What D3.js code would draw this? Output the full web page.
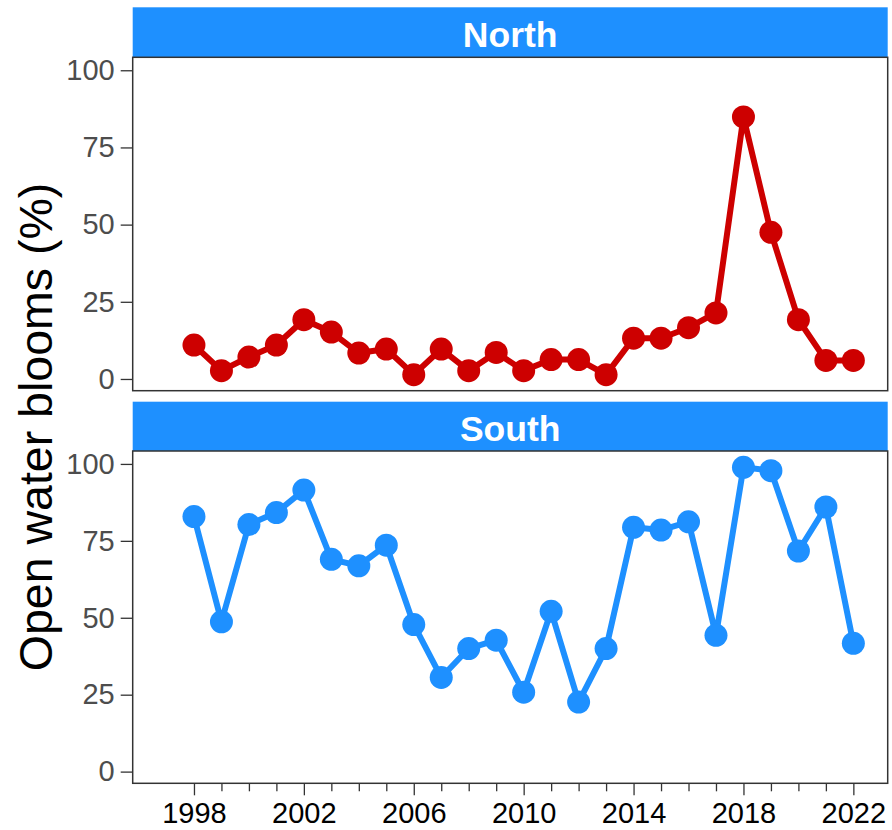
<!DOCTYPE html>
<html>
<head>
<meta charset="utf-8">
<script src="https://cdn.jsdelivr.net/npm/d3@7"></script>
<style>
  html, body { margin: 0; padding: 0; background: #fff; }
  svg { display: block; font-family: "Liberation Sans", Arial, sans-serif; }
</style>
</head>
<body>
<svg id="chart" width="892" height="830"></svg>
<script>
// ---- data ----
const years = [1998,1999,2000,2001,2002,2003,2004,2005,2006,2007,2008,2009,2010,2011,2012,2013,2014,2015,2016,2017,2018,2019,2020,2021,2022];
const northValues = [11.0,2.7,7.1,11.0,19.2,15.2,8.4,9.7,1.4,9.7,2.7,8.6,2.7,6.3,6.3,1.4,13.2,13.2,16.6,21.4,84.9,47.5,19.2,6.0,6.0];
const southValues = [82.9,48.7,80.3,84.2,91.5,69.0,66.9,73.6,47.8,30.6,40.0,42.7,25.8,52.1,22.6,40.0,79.4,78.5,81.2,44.3,98.9,97.8,71.7,86.0,41.7];
const regions = ["North", "South"];
const yTicks = [0, 25, 50, 75, 100];
const xTickLabels = [1998, 2002, 2006, 2010, 2014, 2018, 2022];
const yTitle = "Open water blooms (%)";

const panels = [
  { name: regions[0], values: northValues, color: "#CD0000", stripTop: 7.3, top: 57.3, bottom: 390.7 },
  { name: regions[1], values: southValues, color: "#1E90FF", stripTop: 401.7, top: 451, bottom: 783.3 }
];

const svg = d3.select("#chart");
const left = 132.7, right = 887.7;
const x = d3.scaleLinear().domain([1995.77, 2023.25]).range([left, right]);

panels.forEach((p, i) => {
  const y = d3.scaleLinear().domain([-3.8, 104.2]).range([p.bottom, p.top]);
  const g = svg.append("g");

  // strip
  g.append("rect")
    .attr("x", left).attr("y", p.stripTop)
    .attr("width", right - left).attr("height", p.top - p.stripTop)
    .attr("fill", "#1E90FF");
  g.append("text")
    .attr("x", (left + right) / 2).attr("y", p.top - 10)
    .attr("text-anchor", "middle")
    .attr("fill", "#fff").attr("font-weight", "bold")
    .attr("font-size", 35.5)
    .text(p.name);

  // y axis
  const yAxis = d3.axisLeft(y).tickValues(yTicks).tickSize(12).tickPadding(6).tickSizeOuter(0);
  const ya = g.append("g").attr("transform", `translate(${left},0)`).call(yAxis);
  ya.select(".domain").remove();
  ya.selectAll(".tick line").attr("stroke", "#333").attr("stroke-width", 1.3);
  ya.selectAll(".tick text").attr("fill", "#4D4D4D").attr("font-size", 29)
    .attr("font-family", "Liberation Sans, Arial, sans-serif");

  // x axis (bottom panel only)
  if (i === panels.length - 1) {
    const minor = d3.axisBottom(x).tickValues(years.filter(yv => !xTickLabels.includes(yv)))
      .tickSize(8).tickFormat("").tickSizeOuter(0);
    const mg = g.append("g").attr("transform", `translate(0,${p.bottom})`).call(minor);
    mg.select(".domain").remove();
    mg.selectAll(".tick line").attr("stroke", "#333").attr("stroke-width", 1.3);

    const major = d3.axisBottom(x).tickValues(xTickLabels).tickSize(12).tickPadding(7)
      .tickFormat(d3.format("d")).tickSizeOuter(0);
    const xa = g.append("g").attr("transform", `translate(0,${p.bottom})`).call(major);
    xa.select(".domain").remove();
    xa.selectAll(".tick line").attr("stroke", "#333").attr("stroke-width", 1.3);
    xa.selectAll(".tick text").attr("fill", "#000").attr("font-size", 29)
      .attr("font-family", "Liberation Sans, Arial, sans-serif");
  }

  // data
  const pts = years.map((yr, k) => ({ yr, v: p.values[k] }));
  const line = d3.line().x(d => x(d.yr)).y(d => y(d.v));
  g.append("path").datum(pts)
    .attr("d", line).attr("fill", "none")
    .attr("stroke", p.color).attr("stroke-width", 6).attr("stroke-linejoin", "round");
  g.selectAll("circle.pt").data(pts).enter().append("circle")
    .attr("class", "pt")
    .attr("cx", d => x(d.yr)).attr("cy", d => y(d.v)).attr("r", 11.5)
    .attr("fill", p.color);

  // panel border
  g.append("rect")
    .attr("x", left).attr("y", p.top)
    .attr("width", right - left).attr("height", p.bottom - p.top)
    .attr("fill", "none").attr("stroke", "#333").attr("stroke-width", 1.5);
});

// y title
svg.append("text")
  .attr("transform", "translate(52,427) rotate(-90)")
  .attr("text-anchor", "middle")
  .attr("font-size", 46.5)
  .attr("fill", "#000")
  .text(yTitle);
</script>
</body>
</html>
